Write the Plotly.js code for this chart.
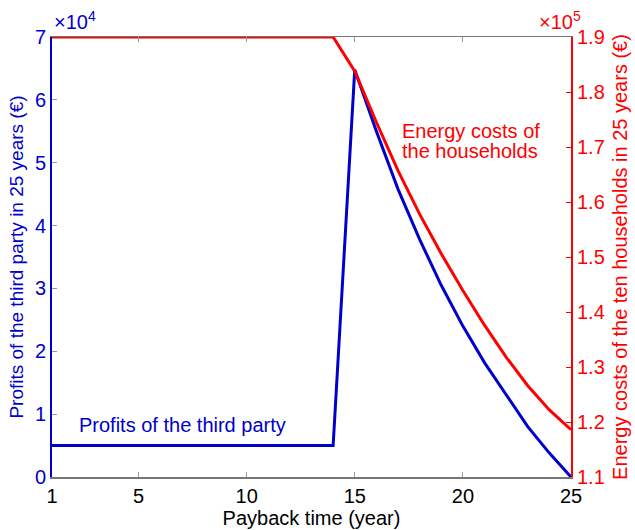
<!DOCTYPE html>
<html>
<head>
<meta charset="utf-8">
<script src="https://cdn.plot.ly/plotly-3.0.1.min.js"></script>
<style>html,body{margin:0;padding:0;background:#fff;}#chart{width:635px;height:530px;}</style>
</head>
<body>
<div id="chart"></div>
<script>
// Payback time (year)
const years = [1,2,3,4,5,6,7,8,9,10,11,12,13,14,15,16,17,18,19,20,21,22,23,24,25];
// Profits of the third party in 25 years (x10^4 EUR)
const profits = [0.5,0.5,0.5,0.5,0.5,0.5,0.5,0.5,0.5,0.5,0.5,0.5,0.5,0.5,
                 6.48,5.50,4.58,3.78,3.05,2.40,1.82,1.30,0.80,0.38,0.0];
// Energy costs of the ten households in 25 years (x10^5 EUR)
const costs = [1.9,1.9,1.9,1.9,1.9,1.9,1.9,1.9,1.9,1.9,1.9,1.9,1.9,1.9,
               1.838,1.745,1.657,1.578,1.506,1.439,1.376,1.318,1.266,1.222,1.186];
const xTicks = [1,5,10,15,20,25];
const leftTicks = [0,1,2,3,4,5,6,7];
const rightTicks = [1.1,1.2,1.3,1.4,1.5,1.6,1.7,1.8,1.9];

const BLUE = '#0000CC';
const RED = '#FF0000';
const FONT = 'Liberation Sans, Arial, sans-serif';

const traces = [
  {x: years, y: profits, type: 'scatter', mode: 'lines', yaxis: 'y',
   line: {color: BLUE, width: 3}, cliponaxis: false, hoverinfo: 'skip'},
  {x: years, y: costs, type: 'scatter', mode: 'lines', yaxis: 'y2',
   line: {color: RED, width: 3}, cliponaxis: false, hoverinfo: 'skip'}
];

const layout = {
  width: 635, height: 530,
  margin: {l: 52, r: 64, t: 37, b: 53},
  paper_bgcolor: '#fff', plot_bgcolor: '#fff',
  showlegend: false,
  font: {family: FONT, size: 20, color: '#000'},
  xaxis: {
    range: [1, 25], tickvals: xTicks, ticktext: xTicks.map(String),
    ticks: 'inside', ticklen: 5, tickcolor: '#999', tickwidth: 1,
    showline: true, linecolor: '#777', linewidth: 1.5, mirror: 'ticks',
    showgrid: false, zeroline: false,
    tickfont: {family: FONT, size: 20, color: '#000'},
    title: {text: 'Payback time (year)', font: {family: FONT, size: 20, color: '#000'}, standoff: 1}
  },
  yaxis: {
    range: [0, 7], tickvals: leftTicks, ticktext: leftTicks.map(String),
    ticks: 'inside', ticklen: 5, tickcolor: '#999', tickwidth: 1,
    showline: true, linecolor: BLUE, linewidth: 2,
    showgrid: false, zeroline: false,
    tickfont: {family: FONT, size: 20, color: BLUE},
    title: {text: 'Profits of the third party in 25 years (€)', font: {family: FONT, size: 19, color: BLUE}, standoff: 6}
  },
  yaxis2: {
    overlaying: 'y', side: 'right',
    range: [1.1, 1.9], tickvals: rightTicks, ticktext: rightTicks.map(v => v.toFixed(1)),
    ticks: 'inside', ticklen: 5, tickcolor: RED, tickwidth: 1,
    showline: true, linecolor: RED, linewidth: 2,
    showgrid: false, zeroline: false,
    tickfont: {family: FONT, size: 20, color: RED},
    title: {text: 'Energy costs of the ten households in 25 years (€)', font: {family: FONT, size: 20, color: RED}, standoff: 9}
  },
  annotations: [
    {text: 'Profits of the third party', xref: 'x', yref: 'y', x: 2.15, y: 0.83,
     xanchor: 'left', yanchor: 'middle', showarrow: false,
     font: {family: FONT, size: 20, color: BLUE}},
    {text: 'Energy costs of', xref: 'x', yref: 'y', x: 17.08, y: 5.50,
     xanchor: 'left', yanchor: 'middle', showarrow: false,
     font: {family: FONT, size: 20, color: RED}},
    {text: 'the households', xref: 'x', yref: 'y', x: 17.08, y: 5.18,
     xanchor: 'left', yanchor: 'middle', showarrow: false,
     font: {family: FONT, size: 20, color: RED}},
    {text: '×10<sup>4</sup>', xref: 'paper', yref: 'paper', x: 0.0, y: 1,
     xanchor: 'left', yanchor: 'bottom', yshift: 2, showarrow: false,
     font: {family: FONT, size: 20, color: BLUE}},
    {text: '×10<sup>5</sup>', xref: 'paper', yref: 'paper', x: 1.024, y: 1,
     xanchor: 'right', yanchor: 'bottom', yshift: 2, showarrow: false,
     font: {family: FONT, size: 20, color: RED}}
  ]
};

Plotly.newPlot('chart', traces, layout, {staticPlot: true, displayModeBar: false});
</script>
</body>
</html>
